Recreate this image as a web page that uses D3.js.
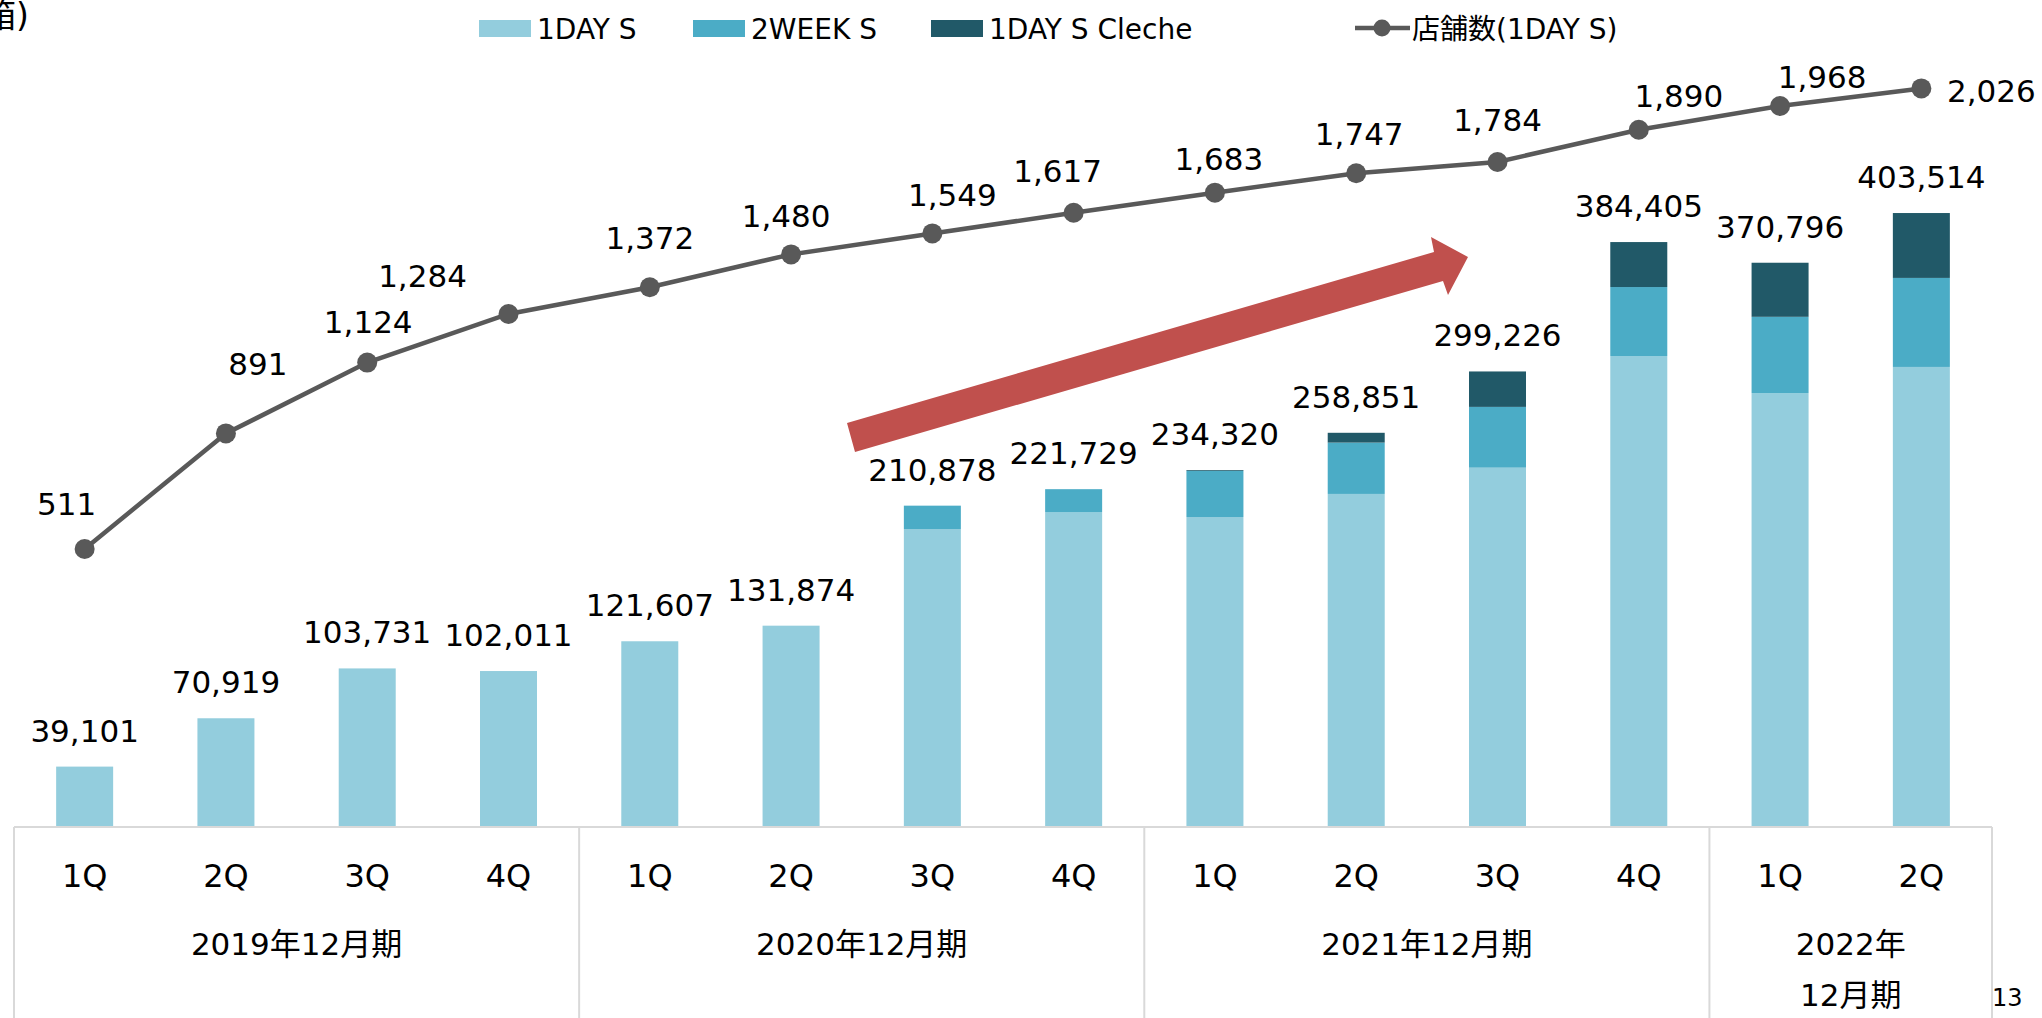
<!DOCTYPE html>
<html>
   <head>
      <meta charset="utf-8">
      <script src="https://d3js.org/d3.v7.min.js"></script>
      <style>
         body { margin: 0; background: #fff; }
         text { font-family: "DejaVu Sans", "Noto Sans CJK JP", sans-serif; fill: #000; }
         .frame { stroke: #d9d9d9; stroke-width: 2px; }
         .line { fill: none; stroke: #595959; stroke-width: 4.5px; }
      </style>
   </head>

<body>
    <div id="div"></div>

    <script>
    // quarters on the category axis, grouped by fiscal year
    const quarters = ["1Q", "2Q", "3Q", "4Q", "1Q", "2Q", "3Q", "4Q", "1Q", "2Q", "3Q", "4Q", "1Q", "2Q"];
    const fiscalYears = [["2019年12月期"], ["2020年12月期"], ["2021年12月期"], ["2022年", "12月期"]];
    const yearSizes = [4, 4, 4, 2];

    // stacked series (boxes)
    const oneDayS  = [39101, 70919, 103731, 102011, 121607, 131874, 195500, 206700, 203400, 218600, 235900, 309400, 285000, 302200];
    const twoWeekS = [0, 0, 0, 0, 0, 0, 15378, 15029, 30400, 33800, 40000, 45400, 50200, 58600];
    const cleche   = [0, 0, 0, 0, 0, 0, 0, 0, 520, 6451, 23326, 29605, 35596, 42714];

    // store count line
    const stores = [511, 891, 1124, 1284, 1372, 1480, 1549, 1617, 1683, 1747, 1784, 1890, 1968, 2026];

    const seriesNames = ["1DAY S", "2WEEK S", "1DAY S Cleche"];
    const lineName = "店舗数(1DAY S)";

    // label nudges for the line labels (px), as placed in the original
    const labelDx = [-18, 32, 1, -86, 0, -5, 20, -16, 4, 3, 0, 40, 42, 70];
    const labelDy = [-34, -58, -30, -27, -38, -27, -27, -31, -23, -28, -31, -23, -18, 14];

    const colors = ["#93cddd", "#4bacc6", "#215968"];

    let width = 2042, height = 1018;
    let baseY = 826;

    var svg = d3.select("#div")
        .append("svg")
        .attr("width", width)
        .attr("height", height);

    var x = d3.scaleBand().domain(d3.range(quarters.length)).range([14, 1992]).padding(0);
    var barW = 57;
    var y = d3.scaleLinear().domain([0, 450000]).range([baseY, baseY - 450000 / 658.3]);
    var y2 = d3.scaleLinear().domain([0, 2000]).range([704.3, 704.3 - 2000 * 0.304]);

    var rows = quarters.map((q, i) => ({i: i, a: oneDayS[i], b: twoWeekS[i], c: cleche[i]}));
    var stack = d3.stack().keys(["a", "b", "c"])(rows);

    // bars
    svg.append("g")
        .selectAll("g")
        .data(stack)
        .enter()
        .append("g")
        .attr("fill", (d, k) => colors[k])
        .selectAll("rect")
        .data(d => d)
        .enter()
        .append("rect")
        .attr("x", d => x(d.data.i) + (x.bandwidth() - barW) / 2)
        .attr("width", barW)
        .attr("y", d => y(d[1]))
        .attr("height", d => y(d[0]) - y(d[1]));

    // bar totals
    svg.append("g")
        .selectAll("text")
        .data(rows)
        .enter()
        .append("text")
        .attr("x", d => x(d.i) + x.bandwidth() / 2)
        .attr("y", d => y(d.a + d.b + d.c) - 25)
        .attr("text-anchor", "middle")
        .style("font-size", "31px")
        .text(d => d3.format(",")(d.a + d.b + d.c));

    // growth arrow
    svg.append("path")
        .attr("d", "M847,423 L1434,252 L1431,237 L1468,257 L1448,295 L1443,281 L855,452 Z")
        .attr("fill", "#c0504d");

    // store line
    var valueline = d3.line()
        .x((d, i) => x(i) + x.bandwidth() / 2)
        .y(d => y2(d));

    svg.append("path")
        .datum(stores)
        .attr("class", "line")
        .attr("d", valueline);

    svg.append("g")
        .selectAll("circle")
        .data(stores)
        .enter()
        .append("circle")
        .attr("cx", (d, i) => x(i) + x.bandwidth() / 2)
        .attr("cy", d => y2(d))
        .attr("r", 10)
        .attr("fill", "#595959");

    svg.append("g")
        .selectAll("text")
        .data(stores)
        .enter()
        .append("text")
        .attr("x", (d, i) => x(i) + x.bandwidth() / 2 + labelDx[i])
        .attr("y", (d, i) => y2(d) + labelDy[i])
        .attr("text-anchor", "middle")
        .style("font-size", "31px")
        .text(d => d3.format(",")(d));

    // category axis (boxed)
    var xAxis = svg.append("g")
        .attr("transform", "translate(0," + (baseY + 1) + ")")
        .call(d3.axisBottom(x).tickSize(0).tickPadding(37).tickFormat(i => quarters[i]));
    xAxis.select(".domain").remove();
    xAxis.selectAll("text")
        .style("font-size", "32px")
        .style("font-family", "'DejaVu Sans', 'Noto Sans CJK JP', sans-serif")
        .attr("fill", "#000");

    var frame = svg.append("g").attr("class", "frame");
    frame.append("line")
        .attr("x1", x.range()[0]).attr("x2", x.range()[1])
        .attr("y1", baseY + 1).attr("y2", baseY + 1);

    var edges = [0];
    yearSizes.forEach((n, k) => edges.push(edges[k] + n));
    var edgeX = e => e < quarters.length ? x(e) : x.range()[1];
    edges.forEach(e => {
        frame.append("line")
            .attr("x1", edgeX(e)).attr("x2", edgeX(e))
            .attr("y1", baseY + 1).attr("y2", height);
    });

    fiscalYears.forEach((lines, k) => {
        var cx = (edgeX(edges[k]) + edgeX(edges[k + 1])) / 2;
        lines.forEach((t, j) => {
            svg.append("text")
                .attr("x", cx)
                .attr("y", 955 + j * 51)
                .attr("text-anchor", "middle")
                .style("font-size", "31px")
                .text(t);
        });
    });

    // legend
    var legendX = [479, 693, 931];
    var legend = svg.append("g");
    seriesNames.forEach((name, k) => {
        legend.append("rect")
            .attr("x", legendX[k]).attr("y", 20)
            .attr("width", 52).attr("height", 17)
            .attr("fill", colors[k]);
        legend.append("text")
            .attr("x", legendX[k] + 58).attr("y", 39)
            .style("font-size", "28px")
            .text(name);
    });
    legend.append("line")
        .attr("x1", 1355).attr("x2", 1410)
        .attr("y1", 28).attr("y2", 28)
        .attr("stroke", "#595959").attr("stroke-width", 4.5);
    legend.append("circle")
        .attr("cx", 1382).attr("cy", 28).attr("r", 8.5)
        .attr("fill", "#595959");
    legend.append("text")
        .attr("x", 1412).attr("y", 39)
        .style("font-size", "28px")
        .text(lineName);

    // unit label, cut at the left edge as in the slide, and page number
    svg.append("text")
        .attr("x", 29).attr("y", 27)
        .attr("text-anchor", "end")
        .style("font-size", "33px")
        .text("(箱)");

    svg.append("text")
        .attr("x", 1992).attr("y", 1006)
        .style("font-size", "24px")
        .text("13");

    </script>
</body>
</html>
